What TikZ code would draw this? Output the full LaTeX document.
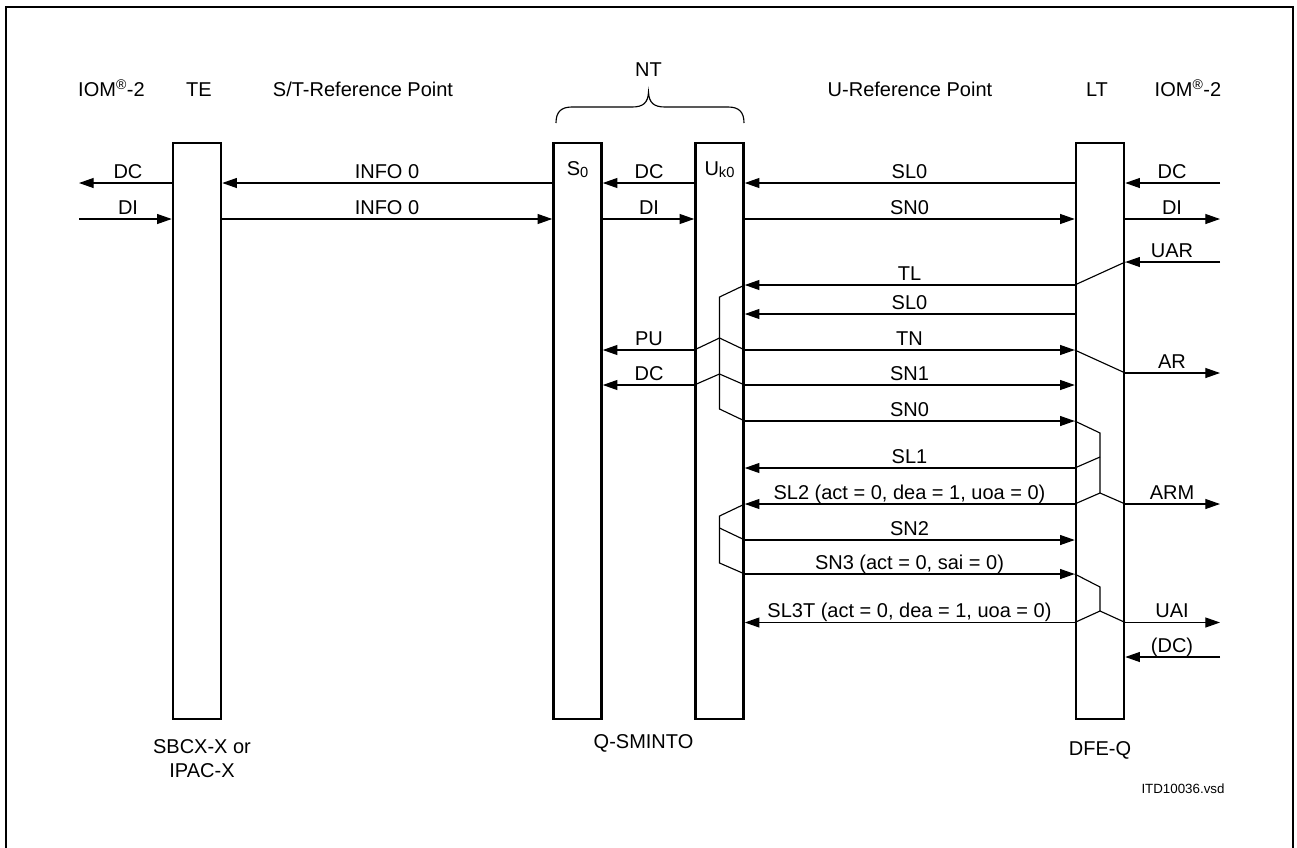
\documentclass[tikz,border=0pt]{standalone}
\usepackage{fontspec}
\setmainfont{Liberation Sans}
\usetikzlibrary{arrows.meta}
\begin{document}
\begin{tikzpicture}[x=0.75pt,y=-0.75pt,
  bar/.style={draw, line width=1.9pt, minimum width=36pt, minimum height=432pt, inner sep=0pt, fill=white},
  sig/.style={line width=0.85pt, -{Triangle[length=11pt,width=7.5pt]}},
  ln/.style={line width=0.85pt},
  lbl/.style={anchor=base, inner sep=0pt, font=\fontsize{15}{18.3}\selectfont},
  small/.style={anchor=base, inner sep=0pt, font=\fontsize{10}{12}\selectfont}]
\useasboundingbox (0,0) rectangle (1297,847);
\draw[line width=1.5pt] (6,848) -- (6,7) -- (1293,7) -- (1293,848);

% bars
\node[bar] (te) at (197,431) {};
\node[bar] (s0) at (577.5,431) {};
\node[bar] (uk) at (719.5,431) {};
\node[bar] (lt) at (1100,431) {};
\coordinate (lout) at (79,0);
\coordinate (rout) at (1220,0);

\node[lbl] (s0lab) at (577.5,175) {S\raisebox{-1.8pt}{\fontsize{11}{11}\selectfont 0}};
\node[lbl] (uklab) at (719.5,175) {U\raisebox{-1.8pt}{\fontsize{11}{11}\selectfont k0}};

% top labels
\node[lbl] (iomL) at (111.5,96.7) {IOM\textsuperscript{®}-2};
\node[lbl] (teL) at (199,96.7) {TE};
\node[lbl] (stL) at (363,96.7) {S/T-Reference Point};
\node[lbl] (ntL) at (648.5,76.7) {NT};
\node[lbl] (uL) at (910,96.7) {U-Reference Point};
\node[lbl] (ltL) at (1097,96.7) {LT};
\node[lbl] (iomR) at (1188,96.7) {IOM\textsuperscript{®}-2};
\draw[ln] (556,123) .. controls (556,112) and (561,107) .. (572,107) -- (632,107)
  .. controls (643,107) and (648,103) .. (648.5,92)
  .. controls (649,103) and (654,107) .. (665,107) -- (728,107)
  .. controls (739,107) and (744,112) .. (744,123);

% bottom labels
\node[lbl, align=center] (teB) at (202,777.7) {SBCX-X or\\IPAC-X};
\node[lbl] (ntB) at (643.5,748.6) {Q-SMINTO};
\node[lbl] (ltB) at (1100,755) {DFE-Q};
\node[small] (file) at (1183,793) {ITD10036.vsd};

% row 183
\draw[sig] (te.west|-0,183) -- (lout|-0,183);
\node[lbl] at (128,178) {DC};
\draw[sig] (s0.west|-0,183) -- (te.east|-0,183);
\node[lbl] at (387,178) {INFO 0};
\draw[sig] (uk.west|-0,183) -- (s0.east|-0,183);
\node[lbl] at (649,178) {DC};
\draw[sig] (lt.west|-0,183) -- (uk.east|-0,183);
\node[lbl] at (909.5,178) {SL0};
\draw[sig] (rout|-0,183) -- (lt.east|-0,183);
\node[lbl] at (1172,178) {DC};

% row 219
\draw[sig] (lout|-0,219) -- (te.west|-0,219);
\node[lbl] at (128,214) {DI};
\draw[sig] (te.east|-0,219) -- (s0.west|-0,219);
\node[lbl] at (387,214) {INFO 0};
\draw[sig] (s0.east|-0,219) -- (uk.west|-0,219);
\node[lbl] at (649,214) {DI};
\draw[sig] (uk.east|-0,219) -- (lt.west|-0,219);
\node[lbl] at (909.5,214) {SN0};
\draw[sig] (lt.east|-0,219) -- (rout|-0,219);
\node[lbl] at (1172,214) {DI};

% row 262
\draw[sig] (rout|-0,262) -- (lt.east|-0,262);
\node[lbl] at (1172,257) {UAR};

% row 285
\draw[sig] (lt.west|-0,285) -- (uk.east|-0,285);
\node[lbl] at (909.5,280) {TL};
\draw[ln] (lt.west|-0,285) -- (lt.east|-0,262);
\draw[ln] (uk.east|-0,285) -- (uk.center|-0,297) -- (uk.center|-0,409) -- (uk.east|-0,421);

% row 314
\draw[sig] (lt.west|-0,314) -- (uk.east|-0,314);
\node[lbl] at (909.5,309) {SL0};

% row 350
\draw[sig] (uk.west|-0,350) -- (s0.east|-0,350);
\node[lbl] at (649,345) {PU};
\draw[sig] (uk.east|-0,350) -- (lt.west|-0,350);
\node[lbl] at (909.5,345) {TN};
\draw[ln] (uk.west|-0,350) -- (uk.center|-0,338) -- (uk.east|-0,350);
\draw[ln] (lt.west|-0,350) -- (lt.east|-0,373);

% row 373
\draw[sig] (lt.east|-0,373) -- (rout|-0,373);
\node[lbl] at (1172,368) {AR};

% row 385
\draw[sig] (uk.west|-0,385) -- (s0.east|-0,385);
\node[lbl] at (649,380) {DC};
\draw[sig] (uk.east|-0,385) -- (lt.west|-0,385);
\node[lbl] at (909.5,380) {SN1};
\draw[ln] (uk.west|-0,385) -- (uk.center|-0,374) -- (uk.east|-0,385);

% row 421
\draw[sig] (uk.east|-0,421) -- (lt.west|-0,421);
\node[lbl] at (909.5,416) {SN0};
\draw[ln] (lt.west|-0,421) -- (lt.center|-0,433) -- (lt.center|-0,493) -- (lt.east|-0,504);
\draw[ln] (lt.center|-0,457) -- (lt.west|-0,468);
\draw[ln] (lt.center|-0,493) -- (lt.west|-0,504);

% row 468
\draw[sig] (lt.west|-0,468) -- (uk.east|-0,468);
\node[lbl] at (909.5,463) {SL1};

% row 504
\draw[sig] (lt.west|-0,504) -- (uk.east|-0,504);
\node[lbl] at (909.5,499) {SL2 (act = 0, dea = 1, uoa = 0)};
\draw[sig] (lt.east|-0,504) -- (rout|-0,504);
\node[lbl] at (1172,499) {ARM};
\draw[ln] (uk.east|-0,504) -- (uk.center|-0,516) -- (uk.center|-0,563) -- (uk.east|-0,574);
\draw[ln] (uk.center|-0,528) -- (uk.east|-0,540);

% row 540
\draw[sig] (uk.east|-0,540) -- (lt.west|-0,540);
\node[lbl] at (909.5,535) {SN2};

% row 574
\draw[sig] (uk.east|-0,574) -- (lt.west|-0,574);
\node[lbl] at (909.5,569.5) {SN3 (act = 0, sai = 0)};
\draw[ln] (lt.west|-0,574) -- (lt.center|-0,587) -- (lt.center|-0,611) -- (lt.east|-0,622.5);
\draw[ln] (lt.center|-0,611) -- (lt.west|-0,622.5);

% row 622
\draw[sig] (lt.west|-0,622.5) -- (uk.east|-0,622.5);
\node[lbl] at (909.5,617.5) {SL3T (act = 0, dea = 1, uoa = 0)};
\draw[sig] (lt.east|-0,622.5) -- (rout|-0,622.5);
\node[lbl] at (1172,617.5) {UAI};

% row 657
\draw[sig] (rout|-0,657) -- (lt.east|-0,657);
\node[lbl] at (1172,652) {(DC)};
\end{tikzpicture}
\end{document}
